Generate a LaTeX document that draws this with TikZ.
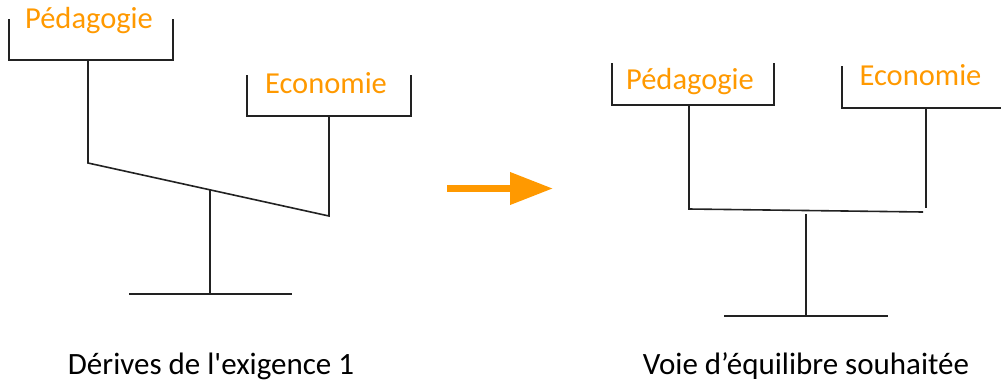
\documentclass[tikz,border=0pt]{standalone}
\usepackage{fontspec}
\setmainfont{Carlito}
% plain family: keeps the straight apostrophe as typed
\newfontfamily\plainfont{Carlito}
\usetikzlibrary{arrows.meta}
\definecolor{accent}{RGB}{255,153,0}
\definecolor{ink}{RGB}{34,34,34}
\begin{document}
\begin{tikzpicture}[x=1pt,y=-1pt,
  beam/.style={draw=ink,line width=1.6pt},
  tag/.style={text=accent,font=\plainfont\fontsize{30.5}{33}\selectfont,inner sep=0pt,anchor=base},
  caption/.style={text=black,font=\plainfont\fontsize{31}{34}\selectfont,inner sep=0pt,anchor=base}]
\useasboundingbox (0,0) rectangle (1001,381);

% ---- tilted balance ----
\node[tag] (pedA) at (89,28) {Pédagogie};
\node[tag] (ecoA) at (326,93) {Economie};
\coordinate (pedAl) at (9,19);   \coordinate (pedAr) at (173,19);
\coordinate (pedAbl) at (9,60);  \coordinate (pedAbr) at (173,60);
\coordinate (ecoAl) at (247,75); \coordinate (ecoAr) at (411,75);
\coordinate (ecoAbl) at (247,116); \coordinate (ecoAbr) at (411,116);
\coordinate (pedAs) at (88,60);  \coordinate (pedAe) at (88,163);
\coordinate (ecoAs) at (329,116); \coordinate (ecoAe) at (329,216);
\coordinate (pivA) at (210,190); \coordinate (footA) at (210,294);
\coordinate (baseAl) at (129,294); \coordinate (baseAr) at (292,294);
\draw[beam] (pedAl) -- (pedAbl) -- (pedAbr) -- (pedAr);
\draw[beam] (ecoAl) -- (ecoAbl) -- (ecoAbr) -- (ecoAr);
\draw[beam] (pedAs) -- (pedAe) -- (ecoAe) -- (ecoAs);
\draw[beam] (pivA) -- (footA);
\draw[beam] (baseAl) -- (baseAr);
\node[caption] (capA) at (211,374) {Dérives de l'exigence 1};

% ---- arrow ----
\coordinate (arrS) at (447,188.5);
\coordinate (arrE) at (553,188.5);
\draw[accent,line width=7pt,-{Triangle[length=43pt,width=31pt]}] (arrS) -- (arrE);

% ---- balanced scale ----
\node[tag] (pedB) at (690,89) {Pédagogie};
\node[tag] (ecoB) at (920.5,85) {Economie};
\coordinate (pedBl) at (612,63);  \coordinate (pedBr) at (774,63);
\coordinate (pedBbl) at (612,105); \coordinate (pedBbr) at (774,105);
\coordinate (ecoBl) at (842,66);  \coordinate (ecoBbl) at (842,108);
\coordinate (ecoBbr) at (1001,108);
\coordinate (pedBs) at (689,105); \coordinate (pedBe) at (689,209);
\coordinate (ecoBs) at (926,108); \coordinate (ecoBe) at (926,208);
\coordinate (beamBr) at (923,212);
\coordinate (pivB) at (806,214); \coordinate (footB) at (806,316);
\coordinate (baseBl) at (724,316); \coordinate (baseBr) at (888,316);
\draw[beam] (pedBl) -- (pedBbl) -- (pedBbr) -- (pedBr);
\draw[beam] (ecoBl) -- (ecoBbl) -- (ecoBbr);
\draw[beam] (pedBs) -- (pedBe) -- (beamBr);
\draw[beam] (ecoBs) -- (ecoBe);
\draw[beam] (pivB) -- (footB);
\draw[beam] (baseBl) -- (baseBr);
\node[caption] (capB) at (806,374) {Voie d’équilibre souhaitée};
\end{tikzpicture}
\end{document}
